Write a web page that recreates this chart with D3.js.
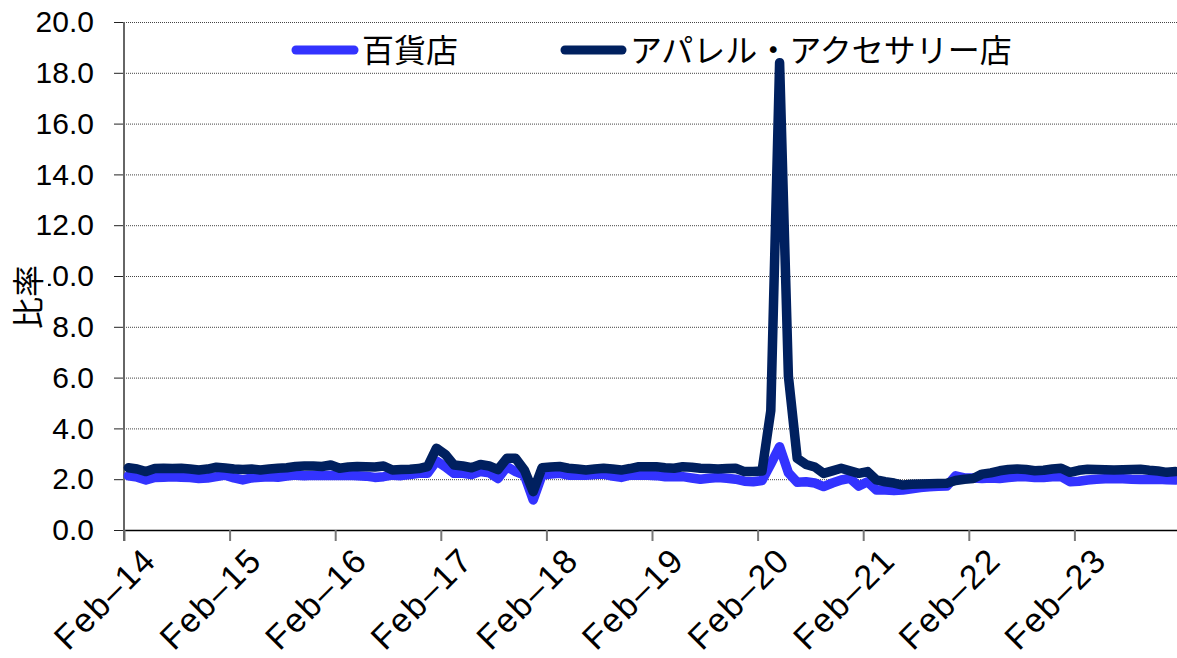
<!DOCTYPE html>
<html>
<head>
<meta charset="utf-8">
<script src="https://cdn.jsdelivr.net/npm/d3@7"></script>
<style>
  body { margin: 0; background: #fff; }
  svg { display: block; }
  text { font-family: "Liberation Sans", Arial, "Noto Sans CJK JP", sans-serif; }
</style>
</head>
<body>
<div id="chart"></div>
<script>
// monthly series, Feb-14 .. Jan-24 (120 months)
const seriesNames = ["百貨店", "アパレル・アクセサリー店"];

const deptStore = [
  2.13, 2.08, 1.97, 2.07, 2.08, 2.10, 2.08, 2.07, 2.03, 2.05, 2.10, 2.16,
  2.05, 1.97, 2.05, 2.08, 2.10, 2.08, 2.12, 2.16, 2.14, 2.16, 2.15, 2.16,
  2.15, 2.16, 2.14, 2.12, 2.07, 2.10, 2.16, 2.14, 2.18, 2.23, 2.23, 2.72,
  2.49, 2.23, 2.23, 2.18, 2.30, 2.25, 2.03, 2.49, 2.30, 2.16, 1.18, 2.16,
  2.20, 2.23, 2.16, 2.16, 2.16, 2.18, 2.20, 2.12, 2.07, 2.16, 2.16, 2.16,
  2.14, 2.10, 2.10, 2.10, 2.05, 2.00, 2.04, 2.07, 2.04, 2.00, 1.92, 1.90,
  1.95, 2.60, 3.28, 2.25, 1.88, 1.90, 1.85, 1.71, 1.85, 1.97, 2.03, 1.73,
  1.90, 1.57, 1.57, 1.55, 1.57, 1.62, 1.67, 1.70, 1.72, 1.73, 2.13, 2.05,
  2.05, 2.03, 2.05, 2.03, 2.07, 2.10, 2.10, 2.07, 2.07, 2.10, 2.10, 1.90,
  1.92, 1.97, 2.00, 2.02, 2.03, 2.02, 2.00, 1.99, 1.99, 2.00, 1.98, 1.97
];

const apparel = [
  2.45, 2.40, 2.30, 2.42, 2.43, 2.42, 2.43, 2.40, 2.36, 2.40, 2.47, 2.44,
  2.40, 2.38, 2.40, 2.36, 2.40, 2.43, 2.45, 2.50, 2.52, 2.52, 2.50, 2.56,
  2.43, 2.48, 2.50, 2.49, 2.48, 2.52, 2.36, 2.38, 2.39, 2.42, 2.50, 3.22,
  2.98, 2.56, 2.52, 2.45, 2.58, 2.52, 2.38, 2.82, 2.82, 2.36, 1.51, 2.45,
  2.48, 2.50, 2.43, 2.40, 2.36, 2.40, 2.43, 2.40, 2.36, 2.42, 2.49, 2.49,
  2.49, 2.45, 2.43, 2.49, 2.47, 2.43, 2.42, 2.40, 2.42, 2.43, 2.30, 2.30,
  2.32, 4.70, 18.40, 6.05, 2.82, 2.58, 2.48, 2.23, 2.33, 2.43, 2.33, 2.23,
  2.30, 1.97, 1.90, 1.85, 1.77, 1.80, 1.81, 1.82, 1.83, 1.84, 1.95, 2.00,
  2.03, 2.20, 2.25, 2.33, 2.38, 2.40, 2.38, 2.33, 2.35, 2.40, 2.43, 2.27,
  2.35, 2.39, 2.38, 2.37, 2.36, 2.37, 2.38, 2.39, 2.35, 2.32, 2.27, 2.30
];

const tickLabels = ["Feb–14", "Feb–15", "Feb–16", "Feb–17", "Feb–18",
                    "Feb–19", "Feb–20", "Feb–21", "Feb–22", "Feb–23"];
const yTicks = [0, 2, 4, 6, 8, 10, 12, 14, 16, 18, 20];
const yTitle = "比率";

const width = 1177, height = 658;
const margin = { left: 124, right: -3, top: 22, bottom: 128 };
const colors = ["#3333ff", "#00205f"];

const svg = d3.select("#chart").append("svg")
  .attr("width", width)
  .attr("height", height);

const x = d3.scaleLinear()
  .domain([0, apparel.length])
  .range([margin.left, width - margin.right]);

const y = d3.scaleLinear()
  .domain([0, 20])
  .range([height - margin.bottom, margin.top]);

// dotted gridlines
svg.append("g")
  .selectAll("line")
  .data(yTicks.filter(d => d > 0))
  .join("line")
  .attr("x1", x(0))
  .attr("x2", x(apparel.length))
  .attr("y1", d => y(d) + 0.5)
  .attr("y2", d => y(d) + 0.5)
  .attr("stroke", "#444")
  .attr("stroke-width", 1)
  .attr("stroke-dasharray", "1,1");

// y axis
const yAxis = svg.append("g")
  .attr("transform", `translate(${x(0)},0)`)
  .call(d3.axisLeft(y).tickValues(yTicks).tickFormat(d3.format(".1f")).tickSize(10).tickSizeOuter(0).tickPadding(20));
yAxis.select(".domain").remove();
yAxis.selectAll(".tick line").attr("stroke", "#222");
yAxis.selectAll(".tick text")
  .style("font-size", "30px")
  .attr("fill", "#000");

// x axis
const xAxis = svg.append("g")
  .attr("transform", `translate(0,${y(0)})`)
  .call(d3.axisBottom(x)
    .tickValues(d3.range(0, apparel.length, 12))
    .tickFormat((d, i) => tickLabels[i])
    .tickSize(11)
    .tickSizeOuter(0));
xAxis.select(".domain").attr("stroke", "#000").attr("stroke-width", 1.5);
xAxis.selectAll(".tick line").attr("stroke", "#777").attr("stroke-width", 2);
xAxis.selectAll(".tick text")
  .style("font-size", "34px")
  .attr("fill", "#000")
  .attr("letter-spacing", "2px")
  .attr("text-anchor", "end")
  .attr("y", 0)
  .attr("dy", "0.7em")
  .attr("transform", "translate(17,15) rotate(-45)");

// y axis line
svg.append("line")
  .attr("x1", x(0)).attr("x2", x(0))
  .attr("y1", y(20)).attr("y2", y(0) + 11)
  .attr("stroke", "#666")
  .attr("stroke-width", 2);

// series lines: dept store first, apparel on top
const line = d3.line()
  .x((d, i) => x(i + 0.5))
  .y(d => y(d));

[deptStore, apparel].forEach((vals, k) => {
  svg.append("path")
    .datum(vals)
    .attr("d", line)
    .attr("fill", "none")
    .attr("stroke", colors[k])
    .attr("stroke-width", 9.5)
    .attr("stroke-linejoin", "round")
    .attr("stroke-linecap", "round");
});

// y axis title (white box covers the label beneath, like the original)
const titleG = svg.append("g").attr("transform", "translate(28,297) rotate(-90)");
titleG.append("rect")
  .attr("x", -33).attr("y", -18)
  .attr("width", 66).attr("height", 38)
  .attr("fill", "#fff");
titleG.append("text")
  .attr("text-anchor", "middle")
  .attr("dy", "0.36em")
  .style("font-size", "32px")
  .style("font-family", "'Noto Sans CJK JP', sans-serif")
  .text(yTitle);

// legend
const legendItems = [
  { name: seriesNames[0], color: colors[0], x0: 296, x1: 354 },
  { name: seriesNames[1], color: colors[1], x0: 565, x1: 622 }
];
const legend = svg.append("g");
legendItems.forEach(it => {
  legend.append("line")
    .attr("x1", it.x0).attr("x2", it.x1)
    .attr("y1", 50).attr("y2", 50)
    .attr("stroke", it.color)
    .attr("stroke-width", 9)
    .attr("stroke-linecap", "round");
  legend.append("text")
    .attr("x", it.x1 + 8)
    .attr("y", 50)
    .attr("dy", "0.36em")
    .style("font-size", "32px")
    .style("font-family", "'Noto Sans CJK JP', sans-serif")
    .text(it.name);
});
</script>
</body>
</html>
